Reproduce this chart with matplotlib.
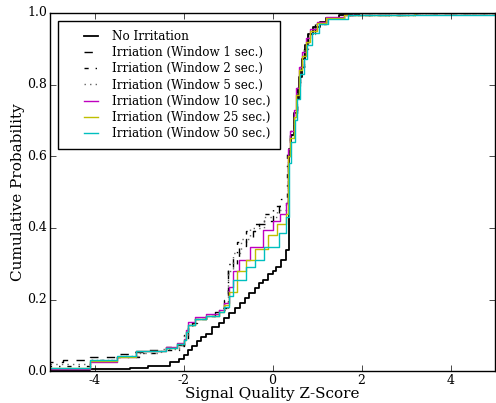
import matplotlib
matplotlib.use('Agg')
import matplotlib.pyplot as plt
from matplotlib.lines import Line2D
from matplotlib.legend_handler import HandlerLine2D

plt.style.use('classic')
plt.rcParams['font.family'] = 'DejaVu Serif'
plt.rcParams['axes.unicode_minus'] = False

# CDF step breakpoints (z-score, cumulative prob)
none_x = [-5.5, -4.1, -3.2, -2.8, -2.3, -2.1, -2.0, -1.9, -1.8, -1.7, -1.6, -1.5, -1.35, -1.2, -1.1,
          -0.97, -0.85, -0.74, -0.63, -0.52, -0.4, -0.3, -0.22, -0.1, 0.0, 0.08, 0.2, 0.31, 0.36, 0.38,
          0.42, 0.48, 0.54, 0.6, 0.66, 0.72, 0.8, 0.9, 1.06, 1.2, 1.5, 1.95, 6.0]
none_y = [0.003, 0.005, 0.01, 0.015, 0.025, 0.035, 0.045, 0.06, 0.07, 0.085, 0.095, 0.105, 0.123, 0.135, 0.148,
          0.162, 0.175, 0.19, 0.205, 0.218, 0.232, 0.245, 0.255, 0.27, 0.28, 0.29, 0.31, 0.338, 0.56, 0.62,
          0.66, 0.72, 0.76, 0.82, 0.87, 0.91, 0.94, 0.96, 0.975, 0.985, 0.995, 1.0, 1.0]

w1_x = [-5.5, -4.7, -4.1, -3.5, -3.2, -2.77, -2.4, -2.14, -2.0, -1.9, -1.8, -1.7, -1.5, -1.3, -1.1, -1.0,
        -0.9, -0.75, -0.6, -0.45, -0.3, -0.15, 0.0, 0.15, 0.3, 0.34, 0.4, 0.48, 0.55, 0.62, 0.7, 0.8, 0.95,
        1.2, 1.6, 3.2, 6.0]
w1_y = [0.025, 0.03, 0.039, 0.047, 0.053, 0.058, 0.067, 0.072, 0.09, 0.12, 0.135, 0.145, 0.155, 0.165, 0.2, 0.29,
        0.32, 0.35, 0.37, 0.39, 0.41, 0.42, 0.44, 0.46, 0.47, 0.6, 0.66, 0.72, 0.79, 0.85, 0.9, 0.94, 0.97,
        0.985, 0.995, 1.0, 1.0]

w2_x = [-5.5, -4.1, -3.5, -3.0, -2.5, -2.1, -2.0, -1.9, -1.75, -1.5, -1.2, -1.0, -0.8, -0.6, -0.4, -0.2,
        0.0, 0.2, 0.33, 0.4, 0.48, 0.55, 0.62, 0.7, 0.8, 0.95, 1.2, 1.6, 3.2, 6.0]
w2_y = [0.015, 0.03, 0.04, 0.05, 0.06, 0.07, 0.1, 0.13, 0.145, 0.155, 0.175, 0.3, 0.36, 0.39, 0.41, 0.44,
        0.46, 0.48, 0.61, 0.67, 0.73, 0.79, 0.85, 0.9, 0.94, 0.97, 0.985, 0.995, 1.0, 1.0]

w5_x = [-5.5, -4.1, -3.5, -3.0, -2.5, -2.1, -2.0, -1.9, -1.75, -1.5, -1.2, -1.0, -0.9, -0.7, -0.5, -0.2,
        0.1, 0.3, 0.34, 0.4, 0.48, 0.55, 0.62, 0.7, 0.8, 0.95, 1.2, 1.6, 3.2, 6.0]
w5_y = [0.02, 0.032, 0.042, 0.052, 0.062, 0.072, 0.1, 0.13, 0.145, 0.155, 0.17, 0.28, 0.33, 0.37, 0.4, 0.43,
        0.45, 0.47, 0.6, 0.66, 0.72, 0.79, 0.85, 0.9, 0.94, 0.97, 0.985, 0.995, 1.0, 1.0]

w10_x = [-5.5, -4.1, -3.5, -3.06, -2.4, -2.14, -2.0, -1.95, -1.9, -1.75, -1.5, -1.2, -1.1, -0.97, -0.9,
         -0.75, -0.5, -0.22, 0.0, 0.16, 0.3, 0.34, 0.4, 0.48, 0.53, 0.6, 0.66, 0.75, 0.85, 1.0, 1.2, 1.6,
         1.8, 6.0]
w10_y = [0.005, 0.025, 0.04, 0.056, 0.067, 0.078, 0.09, 0.115, 0.137, 0.15, 0.16, 0.17, 0.19, 0.235, 0.28,
         0.31, 0.346, 0.394, 0.42, 0.44, 0.47, 0.62, 0.67, 0.73, 0.79, 0.85, 0.89, 0.93, 0.955, 0.975, 0.988,
         0.995, 1.0, 1.0]

w25_x = [-5.5, -4.1, -3.5, -3.06, -2.4, -2.14, -2.0, -1.95, -1.9, -1.75, -1.5, -1.2, -1.1, -0.97, -0.8,
         -0.6, -0.4, -0.1, 0.1, 0.3, 0.35, 0.4, 0.48, 0.53, 0.6, 0.66, 0.75, 0.85, 1.0, 1.2, 1.6, 3.2, 6.0]
w25_y = [0.008, 0.028, 0.04, 0.055, 0.066, 0.076, 0.088, 0.11, 0.13, 0.145, 0.155, 0.165, 0.185, 0.22, 0.28,
         0.31, 0.34, 0.38, 0.41, 0.44, 0.6, 0.65, 0.71, 0.77, 0.84, 0.88, 0.92, 0.95, 0.972, 0.985, 0.993,
         1.0, 1.0]

w50_x = [-5.5, -4.1, -3.5, -3.06, -2.4, -2.14, -2.0, -1.95, -1.9, -1.75, -1.5, -1.2, -1.1, -0.97, -0.9,
         -0.6, -0.4, -0.2, 0.15, 0.3, 0.36, 0.42, 0.5, 0.56, 0.62, 0.7, 0.78, 0.88, 1.05, 1.25, 1.7, 6.0]
w50_y = [0.01, 0.03, 0.042, 0.055, 0.066, 0.076, 0.088, 0.11, 0.13, 0.145, 0.155, 0.165, 0.18, 0.21, 0.254,
         0.29, 0.31, 0.346, 0.385, 0.43, 0.58, 0.64, 0.7, 0.76, 0.83, 0.87, 0.91, 0.945, 0.968, 0.982, 0.995,
         0.997]

fig = plt.figure(figsize=(4.96, 4.03), dpi=100)
ax = fig.add_axes([0.101, 0.079, 0.897, 0.889])

ax.step(none_x, none_y, where='post', color='k', lw=1.3, label='No Irritation')
ax.step(w1_x, w1_y, where='post', color='k', ls='--', lw=1, label='Irriation (Window 1 sec.)')
ax.step(w2_x, w2_y, where='post', color='k', ls='-.', lw=1, label='Irriation (Window 2 sec.)')
ax.step(w5_x, w5_y, where='post', color='0.4', ls=':', lw=1, label='Irriation (Window 5 sec.)')
ax.step(w10_x, w10_y, where='post', color='m', lw=1, label='Irriation (Window 10 sec.)')
ax.step(w25_x, w25_y, where='post', color='y', lw=1, label='Irriation (Window 25 sec.)')
ax.step(w50_x, w50_y, where='post', color='c', lw=1, label='Irriation (Window 50 sec.)')

ax.set_xlim(-5, 5)
ax.set_ylim(0, 1)
ax.set_xticks([-4, -2, 0, 2, 4])
ax.set_yticks([0.0, 0.2, 0.4, 0.6, 0.8, 1.0])
ax.tick_params(labelsize=9, pad=2)
ax.set_xlabel('Signal Quality Z-Score', fontsize=11, labelpad=0)
ax.set_ylabel('Cumulative Probability', fontsize=11, labelpad=2)
# push the legend handles a bit to the right, like in the original
ax.legend(loc='upper left', fontsize=8.6, frameon=True, labelspacing=0.27,
          borderpad=0.77, handlelength=2.9, handletextpad=0.9, borderaxespad=0.65,
          handler_map={Line2D: HandlerLine2D(xpad=1.15)})

fig.savefig('out.png', dpi=100)
